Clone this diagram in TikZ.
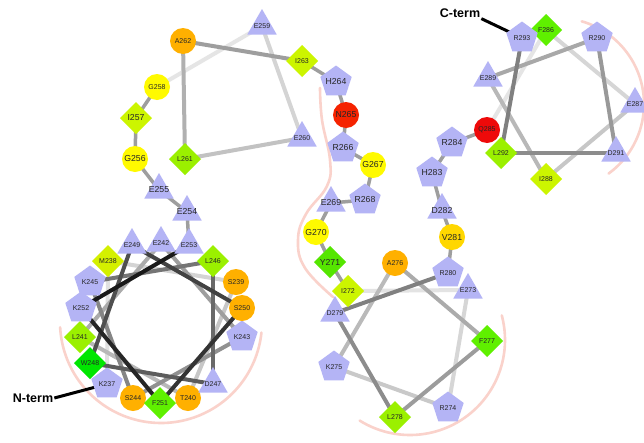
\documentclass[tikz,border=0pt]{standalone}
\usepackage{fontspec}
\setmainfont{Liberation Sans}
\usetikzlibrary{shapes.geometric}
\pgfdeclarelayer{bg}
\pgfsetlayers{bg,main}
\definecolor{lav}{RGB}{180,180,245}
\definecolor{colG}{RGB}{255,250,0}
\definecolor{colV}{RGB}{255,215,0}
\definecolor{colO}{RGB}{255,176,0}
\definecolor{colN}{RGB}{245,35,0}
\definecolor{colQ}{RGB}{238,10,10}
\definecolor{colI}{RGB}{204,245,0}
\definecolor{colM}{RGB}{212,240,0}
\definecolor{colL}{RGB}{155,240,0}
\definecolor{colF}{RGB}{95,240,0}
\definecolor{colW}{RGB}{0,230,0}
\definecolor{colY}{RGB}{85,230,0}
\definecolor{pinkarc}{RGB}{250,210,203}
\newcommand{\reslab}[1]{\makebox[0pt]{#1}}
\begin{document}
\begin{tikzpicture}[x=1pt,y=-1pt,
  res/.style={draw=none, inner sep=0pt, outer sep=0pt, text=black!85},
  tri/.style={res, regular polygon, regular polygon sides=3, minimum size=34pt, fill=lav},
  pent/.style={res, regular polygon, regular polygon sides=5, minimum size=33pt, fill=lav},
  circ/.style={res, circle, minimum size=26pt, fill=#1},
  dia/.style={res, diamond, minimum size=32pt, fill=#1},
  wl/.style={font=\fontsize{7}{7}\selectfont},
  ll/.style={font=\fontsize{8.7}{9}\selectfont},
  pinkline/.style={draw=pinkarc, line width=2.6pt, line cap=round},
  termlab/.style={font=\bfseries\fontsize{12.5}{13}\selectfont, inner sep=1pt},
  termline/.style={line width=3pt, draw=black}
]
\useasboundingbox (0,0) rectangle (644,442);
\clip (0,0) rectangle (644,442);

% ---- wheel 1
\node[pent,wl] (K237) at (107,384) {\reslab{K237}};
\node[dia=colM,wl] (M238) at (108,261) {\reslab{M238}};
\node[circ=colO,wl] (S239) at (236,282) {\reslab{S239}};
\node[circ=colO,wl] (T240) at (188,398) {\reslab{T240}};
\node[dia=colL,wl] (L241) at (80,337) {\reslab{L241}};
\node[tri,wl] (E242) at (161,243) {\reslab{E242}};
\node[pent,wl] (K243) at (242,337) {\reslab{K243}};
\node[circ=colO,wl] (S244) at (133,398) {\reslab{S244}};
\node[pent,wl] (K245) at (90,282) {\reslab{K245}};
\node[dia=colL,wl] (L246) at (213,261) {\reslab{L246}};
\node[tri,wl] (D247) at (213,384) {\reslab{D247}};
\node[dia=colW,wl] (W248) at (90,363) {\reslab{W248}};
\node[tri,wl] (E249) at (132,245) {\reslab{E249}};
\node[circ=colO,wl] (S250) at (242,308) {\reslab{S250}};
\node[dia=colF,wl] (F251) at (160,403) {\reslab{F251}};
\node[pent,wl] (K252) at (81,308) {\reslab{K252}};
\node[tri,wl] (E253) at (189,245) {\reslab{E253}};
% ---- linker 1
\node[tri,ll] (E254) at (187,212) {\reslab{E254}};
\node[tri,ll] (E255) at (159,190) {\reslab{E255}};
\node[circ=colG,ll] (G256) at (135,159) {\reslab{G256}};
\node[dia=colI,ll] (I257) at (136,118) {\reslab{I257}};
% ---- wheel 2
\node[circ=colG,wl] (G258) at (157,87) {\reslab{G258}};
\node[tri,wl] (E259) at (262,26) {\reslab{E259}};
\node[tri,wl] (E260) at (302,138) {\reslab{E260}};
\node[dia=colL,wl] (L261) at (185,159) {\reslab{L261}};
\node[circ=colO,wl] (A262) at (183,41) {\reslab{A262}};
\node[dia=colI,wl] (I263) at (302,61) {\reslab{I263}};
% ---- linker 2
\node[pent,ll] (H264) at (336,82) {\reslab{H264}};
\node[circ=colN,ll] (N265) at (346,115) {\reslab{N265}};
\node[pent,ll] (R266) at (343,148) {\reslab{R266}};
\node[circ=colG,ll] (G267) at (373,165) {\reslab{G267}};
\node[pent,ll] (R268) at (365,200) {\reslab{R268}};
\node[tri,ll] (E269) at (331,203) {\reslab{E269}};
\node[circ=colG,ll] (G270) at (316,232) {\reslab{G270}};
\node[dia=colY,ll] (Y271) at (330,262) {\reslab{Y271}};
% ---- wheel 3
\node[dia=colI,wl] (I272) at (348,291) {\reslab{I272}};
\node[tri,wl] (E273) at (468,290) {\reslab{E273}};
\node[pent,wl] (R274) at (448,408) {\reslab{R274}};
\node[pent,wl] (K275) at (334,367) {\reslab{K275}};
\node[circ=colO,wl] (A276) at (395,263) {\reslab{A276}};
\node[dia=colF,wl] (F277) at (487,341) {\reslab{F277}};
\node[dia=colL,wl] (L278) at (395,417) {\reslab{L278}};
\node[tri,wl] (D279) at (335,313) {\reslab{D279}};
\node[pent,wl] (R280) at (448,273) {\reslab{R280}};
% ---- linker 3
\node[circ=colV,ll] (V281) at (452,237) {\reslab{V281}};
\node[tri,ll] (D282) at (442,210) {\reslab{D282}};
\node[pent,ll] (H283) at (432,173) {\reslab{H283}};
\node[pent,ll] (R284) at (452,143) {\reslab{R284}};
% ---- wheel 4
\node[circ=colQ,wl] (Q285) at (487,130) {\reslab{Q285}};
\node[dia=colF,wl] (F286) at (546,30) {\reslab{F286}};
\node[tri,wl] (E287) at (635,104) {\reslab{E287}};
\node[dia=colI,wl] (I288) at (546,179) {\reslab{I288}};
\node[tri,wl] (E289) at (488,78) {\reslab{E289}};
\node[pent,wl] (R290) at (597,38) {\reslab{R290}};
\node[tri,wl] (D291) at (616,153) {\reslab{D291}};
\node[dia=colL,wl] (L292) at (501,153) {\reslab{L292}};
\node[pent,wl] (R293) at (522,38) {\reslab{R293}};

% ---- terminal labels
\node[termlab] (nterm) at (33,398) {N-term};
\node[termlab] (cterm) at (460,13) {C-term};

\begin{pgfonlayer}{bg}
  \fill[white] (0,0) rectangle (644,442);
  % helix arcs
  \draw[pinkline] plot[domain=183:354, samples=80] ({161+101*cos(\x)}, {322-101*sin(\x)});
  \draw[pinkline] plot[domain=-122:15, samples=80] ({410+95*cos(\x)}, {340-95*sin(\x)});
  \draw[pinkline] plot[domain=-54:74, samples=80] ({558+86*cos(\x)}, {104-86*sin(\x)});
  \draw[pinkline] plot[smooth, tension=0.7] coordinates {(320,88) (322,120) (330,160) (327,186) (306,214) (298,240) (305,268) (333,297)};
  % wheel 1
  \foreach \a/\b/\p in {K237/M238/12, M238/S239/17, S239/T240/22, T240/L241/28,
      L241/E242/33, E242/K243/38, K243/S244/43, S244/K245/48, K245/L246/54,
      L246/D247/59, D247/W248/64, W248/E249/69, E249/S250/74, S250/F251/80,
      F251/K252/85, K252/E253/90}
    \draw[line width=4pt, draw=black!\p] (\a.center) -- (\b.center);
  % wheel 2
  \foreach \a/\b/\p in {G258/E259/10, E259/E260/17, E260/L261/24, L261/A262/31, A262/I263/38}
    \draw[line width=4pt, draw=black!\p] (\a.center) -- (\b.center);
  % wheel 3
  \foreach \a/\b/\p in {I272/E273/11, E273/R274/16, R274/K275/21, K275/A276/27,
      A276/F277/33, F277/L278/39, L278/D279/45, D279/R280/50}
    \draw[line width=4pt, draw=black!\p] (\a.center) -- (\b.center);
  % wheel 4
  \foreach \a/\b/\p in {Q285/F286/10, F286/E287/16, E287/I288/22, I288/E289/28,
      E289/R290/34, R290/D291/40, D291/L292/45, L292/R293/50}
    \draw[line width=4pt, draw=black!\p] (\a.center) -- (\b.center);
  % linkers
  \foreach \a/\b in {E253/E254, E254/E255, E255/G256, G256/I257, I257/G258,
      I263/H264, H264/N265, N265/R266, R266/G267, G267/R268, R268/E269,
      E269/G270, G270/Y271, Y271/I272, R280/V281, V281/D282, D282/H283,
      H283/R284, R284/Q285}
    \draw[line width=3.5pt, draw=black!38] (\a.center) -- (\b.center);
  % termini
  \draw[termline] (nterm.east) -- (K237.center);
  \draw[termline] (cterm.south east) -- (R293.center);
\end{pgfonlayer}
\end{tikzpicture}
\end{document}
